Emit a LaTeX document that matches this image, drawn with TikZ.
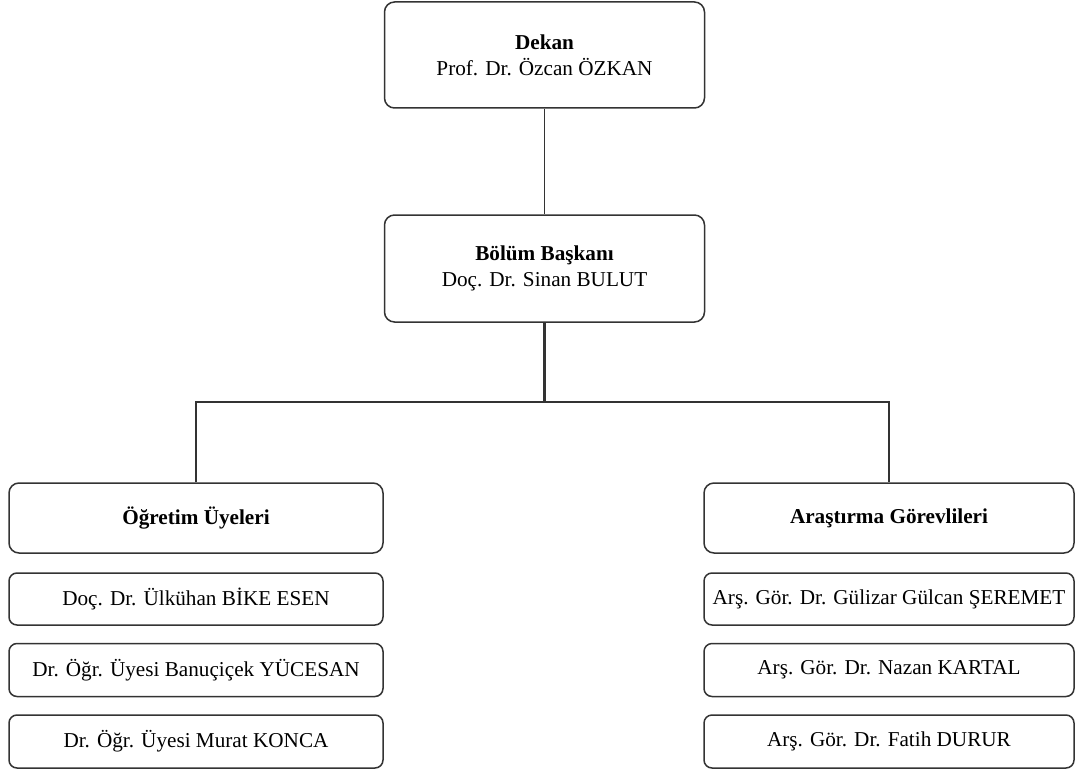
\documentclass[tikz,border=0pt]{standalone}
\usepackage{fontspec}
\setmainfont{Liberation Serif}
\definecolor{linegray}{HTML}{333333}
\tikzset{
  orgbox/.style={draw=linegray, line width=1.5pt, rounded corners=10pt, fill=white,
    align=center, inner sep=0pt, font=\fontsize{21.2}{26}\selectfont, text=black},
  subbox/.style={orgbox, rounded corners=8pt},
  conn/.style={draw=linegray, line width=1.6pt},
  thickconn/.style={draw=linegray, line width=2.2pt}
}
\begin{document}
\begin{tikzpicture}[x=1pt,y=-1pt]
\useasboundingbox[fill=white] (0,0) rectangle (1075,773);
\node[orgbox, minimum width=320pt, minimum height=106pt] (dekan) at (544.5,55)
  {\textbf{Dekan}\\Prof. Dr. Özcan ÖZKAN};
\node[orgbox, minimum width=320pt, minimum height=107pt] (bolum) at (544.5,268.5)
  {\textbf{Bölüm Başkanı}\\Doç. Dr. Sinan BULUT};
\node[orgbox, minimum width=374pt, minimum height=70pt] (ogr) at (196,518)
  {\textbf{Öğretim Üyeleri}};
\node[orgbox, minimum width=370pt, minimum height=70pt] (ara) at (889,518)
  {\textbf{Araştırma Görevlileri}};
\node[subbox, minimum width=374pt, minimum height=52pt] (o1) at (196,599)
  {Doç. Dr. Ülkühan BİKE ESEN};
\node[subbox, minimum width=374pt, minimum height=53pt] (o2) at (196,670)
  {Dr. Öğr. Üyesi Banuçiçek YÜCESAN};
\node[subbox, minimum width=374pt, minimum height=53pt] (o3) at (196,741.5)
  {Dr. Öğr. Üyesi Murat KONCA};
\node[subbox, minimum width=370pt, minimum height=52pt] (a1) at (889,599)
  {Arş. Gör. Dr. Gülizar Gülcan ŞEREMET};
\node[subbox, minimum width=370pt, minimum height=53pt] (a2) at (889,670)
  {Arş. Gör. Dr. Nazan KARTAL};
\node[subbox, minimum width=370pt, minimum height=53pt] (a3) at (889,741.5)
  {Arş. Gör. Dr. Fatih DURUR};
\coordinate (bus) at (544.5,402);
\draw[conn] (dekan.south) -- (bolum.north);
\draw[thickconn] (bolum.south) -- (bus);
\draw[conn] (ogr.north) |- (bus) -| (ara.north);
\end{tikzpicture}
\end{document}
